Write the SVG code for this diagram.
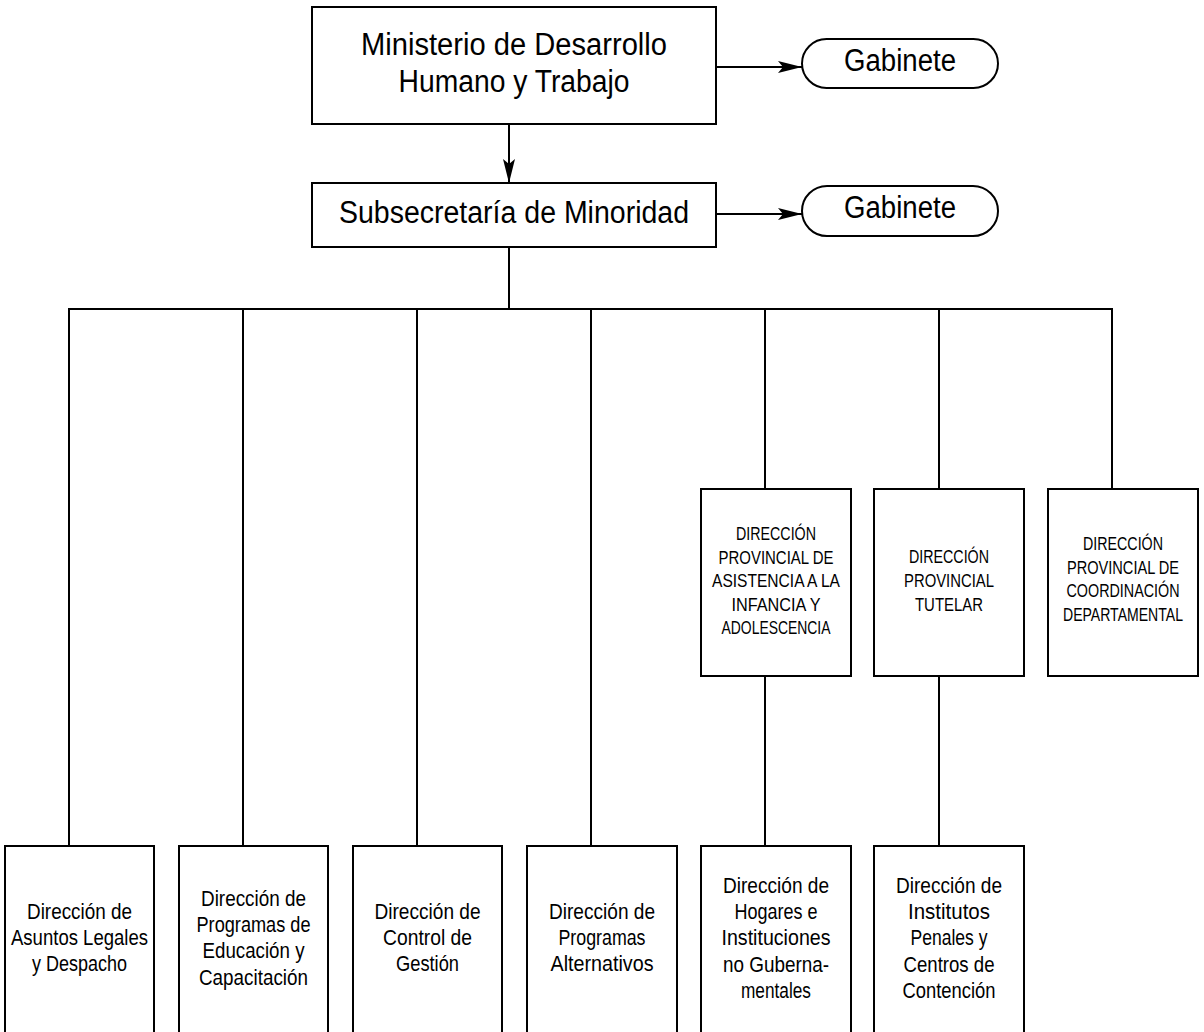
<svg xmlns="http://www.w3.org/2000/svg" width="1204" height="1032" viewBox="0 0 1204 1032">
<defs>
<style>
.box{fill:#fff;stroke:#000;stroke-width:2}
.ln{fill:none;stroke:#000;stroke-width:2}
text{font-family:"Liberation Sans Narrow","Liberation Sans",Arial,sans-serif;fill:#000;text-anchor:middle}
.t1{font-size:31px}
.t2{font-size:22.5px}
.t3{font-size:17.5px}
</style>
<marker id="ah" viewBox="0 0 24 12" refX="24" refY="6" markerWidth="24" markerHeight="12" markerUnits="userSpaceOnUse" orient="auto">
<path d="M0,0 L24,6 L0,12 L5,6 z" fill="#000"/>
</marker>
</defs>
<rect width="1204" height="1032" fill="#fff"/>
<g id="connectors">
<line class="ln" x1="716" y1="67" x2="802" y2="67" marker-end="url(#ah)"/>
<line class="ln" x1="716" y1="214" x2="802" y2="214" marker-end="url(#ah)"/>
<line class="ln" x1="509" y1="124" x2="509" y2="183" marker-end="url(#ah)"/>
<line class="ln" x1="509" y1="247" x2="509" y2="309"/>
<line class="ln" x1="68" y1="309" x2="1113" y2="309"/>
<line class="ln" x1="69" y1="309" x2="69" y2="846"/>
<line class="ln" x1="243" y1="309" x2="243" y2="846"/>
<line class="ln" x1="417" y1="309" x2="417" y2="846"/>
<line class="ln" x1="591" y1="309" x2="591" y2="846"/>
<line class="ln" x1="765" y1="309" x2="765" y2="489"/>
<line class="ln" x1="939" y1="309" x2="939" y2="489"/>
<line class="ln" x1="1112" y1="309" x2="1112" y2="489"/>
<line class="ln" x1="765" y1="676" x2="765" y2="846"/>
<line class="ln" x1="939" y1="676" x2="939" y2="846"/>
</g>
<g id="ministerio">
<rect class="box" x="312" y="7" width="404" height="117"/>
<text class="t1" x="514" y="55" textLength="306" lengthAdjust="spacingAndGlyphs">Ministerio de Desarrollo</text>
<text class="t1" x="514" y="92" textLength="231" lengthAdjust="spacingAndGlyphs">Humano y Trabajo</text>
</g>
<g id="gabinete1">
<rect class="box" x="802" y="39" width="196" height="49" rx="24.5" ry="24.5"/>
<text class="t1" x="900" y="71" textLength="112" lengthAdjust="spacingAndGlyphs">Gabinete</text>
</g>
<g id="subsecretaria">
<rect class="box" x="312" y="183" width="404" height="64"/>
<text class="t1" x="514" y="223" textLength="350" lengthAdjust="spacingAndGlyphs">Subsecretaría de Minoridad</text>
</g>
<g id="gabinete2">
<rect class="box" x="802" y="186" width="196" height="50" rx="25" ry="25"/>
<text class="t1" x="900" y="218" textLength="112" lengthAdjust="spacingAndGlyphs">Gabinete</text>
</g>
<g id="dp-asistencia">
<rect class="box" x="701" y="489" width="150" height="187"/>
<text class="t3" x="776" y="540" textLength="80" lengthAdjust="spacingAndGlyphs">DIRECCIÓN</text>
<text class="t3" x="776" y="564" textLength="115" lengthAdjust="spacingAndGlyphs">PROVINCIAL DE</text>
<text class="t3" x="776" y="587" textLength="128" lengthAdjust="spacingAndGlyphs">ASISTENCIA A LA</text>
<text class="t3" x="776" y="611" textLength="89" lengthAdjust="spacingAndGlyphs">INFANCIA Y</text>
<text class="t3" x="776" y="634" textLength="109" lengthAdjust="spacingAndGlyphs">ADOLESCENCIA</text>
</g>
<g id="dp-tutelar">
<rect class="box" x="874" y="489" width="150" height="187"/>
<text class="t3" x="949" y="563" textLength="80" lengthAdjust="spacingAndGlyphs">DIRECCIÓN</text>
<text class="t3" x="949" y="587" textLength="90" lengthAdjust="spacingAndGlyphs">PROVINCIAL</text>
<text class="t3" x="949" y="611" textLength="68" lengthAdjust="spacingAndGlyphs">TUTELAR</text>
</g>
<g id="dp-coordinacion">
<rect class="box" x="1048" y="489" width="150" height="187"/>
<text class="t3" x="1123" y="550" textLength="80" lengthAdjust="spacingAndGlyphs">DIRECCIÓN</text>
<text class="t3" x="1123" y="574" textLength="112" lengthAdjust="spacingAndGlyphs">PROVINCIAL DE</text>
<text class="t3" x="1123" y="597" textLength="113" lengthAdjust="spacingAndGlyphs">COORDINACIÓN</text>
<text class="t3" x="1123" y="621" textLength="120" lengthAdjust="spacingAndGlyphs">DEPARTAMENTAL</text>
</g>
<g id="d-asuntos">
<rect class="box" x="5" y="846" width="149" height="200"/>
<text class="t2" x="79.5" y="919" textLength="105" lengthAdjust="spacingAndGlyphs">Dirección de</text>
<text class="t2" x="79.5" y="945" textLength="137" lengthAdjust="spacingAndGlyphs">Asuntos Legales</text>
<text class="t2" x="79.5" y="971" textLength="95" lengthAdjust="spacingAndGlyphs">y Despacho</text>
</g>
<g id="d-educacion">
<rect class="box" x="179" y="846" width="149" height="200"/>
<text class="t2" x="253.5" y="906" textLength="105" lengthAdjust="spacingAndGlyphs">Dirección de</text>
<text class="t2" x="253.5" y="932" textLength="114" lengthAdjust="spacingAndGlyphs">Programas de</text>
<text class="t2" x="253.5" y="958" textLength="102" lengthAdjust="spacingAndGlyphs">Educación y</text>
<text class="t2" x="253.5" y="985" textLength="109" lengthAdjust="spacingAndGlyphs">Capacitación</text>
</g>
<g id="d-control">
<rect class="box" x="353" y="846" width="149" height="200"/>
<text class="t2" x="427.5" y="919" textLength="106" lengthAdjust="spacingAndGlyphs">Dirección de</text>
<text class="t2" x="427.5" y="945" textLength="89" lengthAdjust="spacingAndGlyphs">Control de</text>
<text class="t2" x="427.5" y="971" textLength="63" lengthAdjust="spacingAndGlyphs">Gestión</text>
</g>
<g id="d-alternativos">
<rect class="box" x="527" y="846" width="150" height="200"/>
<text class="t2" x="602" y="919" textLength="106" lengthAdjust="spacingAndGlyphs">Dirección de</text>
<text class="t2" x="602" y="945" textLength="87" lengthAdjust="spacingAndGlyphs">Programas</text>
<text class="t2" x="602" y="971" textLength="103" lengthAdjust="spacingAndGlyphs">Alternativos</text>
</g>
<g id="d-hogares">
<rect class="box" x="701" y="846" width="150" height="200"/>
<text class="t2" x="776" y="893" textLength="106" lengthAdjust="spacingAndGlyphs">Dirección de</text>
<text class="t2" x="776" y="919" textLength="83" lengthAdjust="spacingAndGlyphs">Hogares e</text>
<text class="t2" x="776" y="945" textLength="109" lengthAdjust="spacingAndGlyphs">Instituciones</text>
<text class="t2" x="776" y="972" textLength="106" lengthAdjust="spacingAndGlyphs">no Guberna-</text>
<text class="t2" x="776" y="998" textLength="70" lengthAdjust="spacingAndGlyphs">mentales</text>
</g>
<g id="d-institutos">
<rect class="box" x="874" y="846" width="150" height="200"/>
<text class="t2" x="949" y="893" textLength="106" lengthAdjust="spacingAndGlyphs">Dirección de</text>
<text class="t2" x="949" y="919" textLength="82" lengthAdjust="spacingAndGlyphs">Institutos</text>
<text class="t2" x="949" y="945" textLength="77" lengthAdjust="spacingAndGlyphs">Penales y</text>
<text class="t2" x="949" y="972" textLength="91" lengthAdjust="spacingAndGlyphs">Centros de</text>
<text class="t2" x="949" y="998" textLength="93" lengthAdjust="spacingAndGlyphs">Contención</text>
</g>
</svg>
